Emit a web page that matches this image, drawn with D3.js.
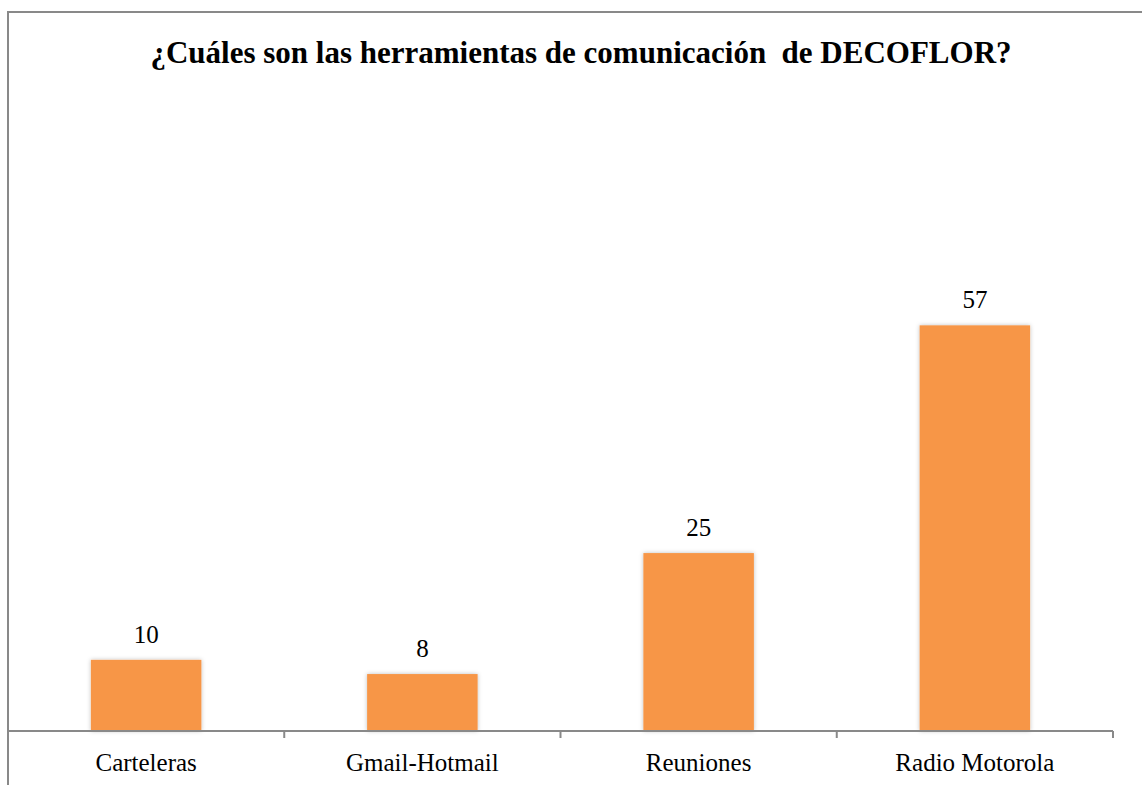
<!DOCTYPE html>
<html>
<head>
<meta charset="utf-8">
<script src="https://cdn.jsdelivr.net/npm/d3@7"></script>
<style>
  body { margin: 0; background: #fff; }
  svg { display: block; }
  text { font-family: "Liberation Serif", "Times New Roman", serif; fill: #000; }
</style>
</head>
<body>
<svg id="chart" width="1142" height="785"></svg>
<script>
// datos del gráfico
var categorias = ["Carteleras", "Gmail-Hotmail", "Reuniones", "Radio Motorola"];
var valores = [10, 8, 25, 57];
var titulo = "¿Cuáles son las herramientas de comunicación\u00a0 de DECOFLOR?";

var W = 1142, H = 785;
var margin = { left: 8, right: 29, top: 304, bottom: 54 };

var svg = d3.select("#chart");

// sombra suave de las barras
var defs = svg.append("defs");
var f = defs.append("filter").attr("id", "sombra")
  .attr("x", "-10%").attr("y", "-10%").attr("width", "120%").attr("height", "120%");
f.append("feDropShadow")
  .attr("dx", 0).attr("dy", 0)
  .attr("stdDeviation", 2)
  .attr("flood-color", "#000")
  .attr("flood-opacity", 0.25);

// marco (solo arriba e izquierda visibles)
svg.append("path")
  .attr("d", "M8," + H + "V12H" + W)
  .attr("fill", "none")
  .attr("stroke", "#898989")
  .attr("stroke-width", 2);

// titulo
svg.append("text")
  .attr("x", 581)
  .attr("y", 63)
  .attr("text-anchor", "middle")
  .style("font-size", "31px")
  .style("font-weight", "bold")
  .text(titulo);

var x = d3.scaleBand()
  .domain(categorias)
  .range([margin.left, W - margin.right])
  .paddingInner(0.6)
  .paddingOuter(0.3);

var x0 = d3.scaleBand()
  .domain(categorias)
  .range([margin.left, W - margin.right]);

var y = d3.scaleLinear()
  .domain([0, 60])
  .range([H - margin.bottom, margin.top]);

var base = y(0);

// barras
svg.append("g")
  .selectAll("rect")
  .data(valores)
  .enter()
  .append("rect")
  .attr("x", function (d, i) { return x(categorias[i]); })
  .attr("y", function (d) { return y(d); })
  .attr("width", x.bandwidth())
  .attr("height", function (d) { return base - y(d); })
  .attr("fill", "#F79646")
  .attr("filter", "url(#sombra)");

// etiquetas de valor
svg.append("g")
  .selectAll("text")
  .data(valores)
  .enter()
  .append("text")
  .attr("x", function (d, i) { return x(categorias[i]) + x.bandwidth() / 2; })
  .attr("y", function (d) { return y(d) - 17; })
  .attr("text-anchor", "middle")
  .style("font-size", "25px")
  .text(function (d) { return d; });

// eje x
var ejeX = svg.append("g")
  .attr("transform", "translate(0," + base + ")");

ejeX.append("line")
  .attr("x1", margin.left).attr("x2", W - margin.right)
  .attr("stroke", "#898989").attr("stroke-width", 2);

var bordes = [margin.left].concat(categorias.map(function (c) { return x0(c) + x0.bandwidth(); }));
ejeX.selectAll(".tick")
  .data(bordes)
  .enter()
  .append("line")
  .attr("x1", function (d) { return d; })
  .attr("x2", function (d) { return d; })
  .attr("y1", 0).attr("y2", 7)
  .attr("stroke", "#898989").attr("stroke-width", 2);

ejeX.selectAll(".cat")
  .data(categorias)
  .enter()
  .append("text")
  .attr("x", function (d) { return x0(d) + x0.bandwidth() / 2; })
  .attr("y", 40)
  .attr("text-anchor", "middle")
  .style("font-size", "25px")
  .text(function (d) { return d; });
</script>
</body>
</html>
